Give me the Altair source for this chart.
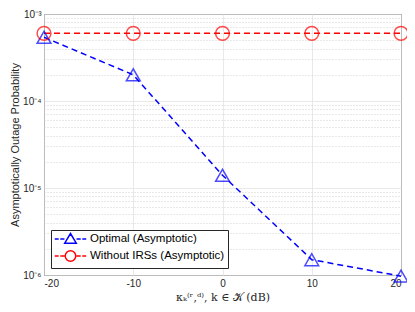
import altair as alt
import pandas as pd

kappa_db = [-20, -10, 0, 10, 20]
optimal = [5.4e-4, 2.0e-4, 1.4e-5, 1.5e-6, 9.7e-7]
without_irs = [6.0e-4, 6.0e-4, 6.0e-4, 6.0e-4, 6.0e-4]
series_names = ["Optimal (Asymptotic)", "Without IRSs (Asymptotic)"]
series_colors = ["#0000FF", "#FF0000"]
series_markers = ["triangle-up", "circle"]
x_ticks = [-20, -10, 0, 10, 20]
y_decades = [1e-6, 1e-5, 1e-4, 1e-3]
y_decade_labels = ["10⁻⁶", "10⁻⁵", "10⁻⁴", "10⁻³"]
y_minor = [m * d for d in [1e-6, 1e-5, 1e-4] for m in range(2, 10)]

rows = []
for k, v in zip(kappa_db, optimal):
    rows.append({"kappa": k, "p": v, "series": series_names[0]})
for k, v in zip(kappa_db, without_irs):
    rows.append({"kappa": k, "p": v, "series": series_names[1]})
df = pd.DataFrame(rows)

major_test = "indexof([" + ",".join(repr(v) for v in y_decades) + "], datum.value) >= 0"
label_expr = ""
for v, lab in zip(y_decades, y_decade_labels):
    label_expr += f"datum.value == {v!r} ? '{lab}' : "
label_expr += "''"

x_enc = alt.X(
    "kappa:Q",
    scale=alt.Scale(domain=[-20, 20], nice=False),
    axis=alt.Axis(
        values=x_ticks,
        labelExpr="datum.value + ''",
        title="κₖ⁽ʳ,ᵈ⁾, k ∈ 𝒦 (dB)",
        titleFont="DejaVu Serif",
        titleFontSize=11,
        titleFontWeight="normal",
        titlePadding=3,
        gridColor="#e3e3e3",
        gridWidth=0.8,
    ),
)
y_enc = alt.Y(
    "p:Q",
    scale=alt.Scale(type="log", domain=[1e-6, 1e-3], nice=False),
    axis=alt.Axis(
        values=y_decades + y_minor,
        labelExpr=label_expr,
        title="Asymptotically Outage Probability",
        titleFontSize=11,
        titleFontWeight="normal",
        titlePadding=2,
        gridDash={"condition": {"test": major_test, "value": []}, "value": [1, 2]},
        gridColor={"condition": {"test": major_test, "value": "#e3e3e3"}, "value": "#c8c8c8"},
        gridWidth=0.8,
    ),
)

legend_props = dict(
    title=None,
    orient="bottom-left",
    offset=7,
    symbolOpacity=1,
    symbolSize=110,
    symbolStrokeWidth=1.5,
    symbolFillColor="transparent",
    labelOffset=24,
)

color_enc = alt.Color(
    "series:N",
    scale=alt.Scale(domain=series_names, range=series_colors),
    legend=alt.Legend(**legend_props),
)

base = alt.Chart(df)

lines = base.mark_line(strokeDash=[6, 4], strokeWidth=1.5).encode(
    x=x_enc, y=y_enc, color=color_enc, detail="series:N"
)
point_layers = [
    base.transform_filter(alt.datum.series == name)
    .mark_point(filled=False, size=190, strokeWidth=1.5, shape=marker)
    .encode(x=x_enc, y=y_enc, color=color_enc)
    for name, marker in zip(series_names, series_markers)
]

# legend glyphs: dashed line with marker, spanning -1..5 in symbol units
tri_path = ("M-1,0H-0.25M0.05,0H0.85M3.15,0H3.95M4.25,0H5"
            "M2,-1.05L3.1,0.8L0.9,0.8Z")
circ_path = ("M-1,0H-0.25M0.05,0H0.85M3.15,0H3.95M4.25,0H5"
             "M3,0A1,1 0 1,1 1,0A1,1 0 1,1 3,0Z")

legend_layer = base.mark_point(opacity=0, filled=False, strokeWidth=1.5).encode(
    x=x_enc,
    y=y_enc,
    color=color_enc,
    shape=alt.Shape(
        "series:N",
        scale=alt.Scale(domain=series_names, range=[tri_path, circ_path]),
        legend=alt.Legend(**legend_props),
    ),
)

chart = (
    alt.layer(lines, *point_layers, legend_layer)
    .properties(
        width=357,
        height=261,
        autosize=alt.AutoSizeParams(type="none"),
        padding={"left": 36, "top": 6, "right": 6, "bottom": 29},
    )
    .configure_view(stroke="#262626", strokeWidth=1)
    .configure_axis(
        labelFont="Liberation Sans",
        titleFont="Liberation Sans",
        labelFontSize=10,
        labelColor="#262626",
        titleColor="#262626",
        domain=False,
        ticks=False,
        labelPadding=3,
    )
    .configure_legend(
        labelFont="Liberation Sans",
        labelFontSize=11.5,
        labelColor="#000000",
        fillColor="white",
        strokeColor="#262626",
        padding=3,
        rowPadding=0,
        cornerRadius=0,
        symbolOpacity=1,
    )
)

chart.save("out.html", embed_options={"renderer": "svg", "actions": False})
